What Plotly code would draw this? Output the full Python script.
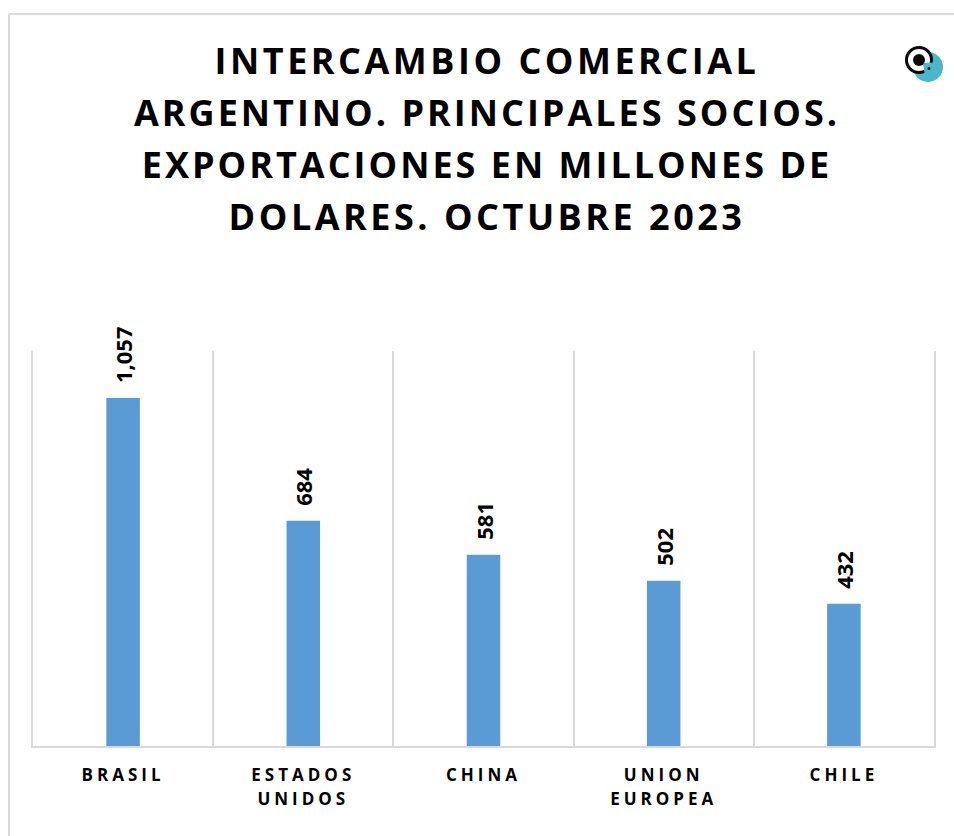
import plotly.graph_objects as go

categories = ["BRASIL", "ESTADOS<br>UNIDOS", "CHINA", "UNION<br>EUROPEA", "CHILE"]
values = [1057, 684, 581, 502, 432]
value_labels = ["1,057", "684", "581", "502", "432"]
title_lines = ["INTERCAMBIO COMERCIAL", "ARGENTINO. PRINCIPALES SOCIOS.",
               "EXPORTACIONES EN MILLONES DE", "DOLARES. OCTUBRE 2023"]

W, H = 954, 836
L, R, T, B = 33, 20, 351, 90
FONT = "Open Sans"
GREY = "#d9d9d9"
TEAL = "#4ab7cd"


def px(x):
    return (x - L) / (W - L - R)


def py(y):
    return (H - B - y) / (H - T - B)


def poly(points):
    return "M " + " L ".join(f"{px(x):.5f} {py(y):.5f}" for x, y in points) + " Z"


fig = go.Figure(go.Bar(
    x=categories, y=values, text=value_labels, textposition="outside",
    textangle=-90, cliponaxis=False, constraintext="none", width=0.186,
    marker=dict(color="#5b9bd5", line=dict(width=0)),
    textfont=dict(family=FONT, size=22, color="#000000", weight="bold"),
    hoverinfo="x+y",
))

shapes = [
    dict(type="line", xref="paper", yref="paper", x0=px(9), x1=px(9), y0=py(14), y1=py(836),
         line=dict(color=GREY, width=2)),
    dict(type="line", xref="paper", yref="paper", x0=px(9), x1=px(954), y0=py(14), y1=py(14),
         line=dict(color=GREY, width=2)),
    dict(type="circle", xref="paper", yref="paper", x0=px(913), x1=px(943), y0=py(82), y1=py(52),
         fillcolor=TEAL, line=dict(width=0)),
    dict(type="circle", xref="paper", yref="paper", x0=px(906.5), x1=px(931.5), y0=py(72.5), y1=py(47.5),
         fillcolor="white", line=dict(color="#0a0a0a", width=3)),
    dict(type="path", xref="paper", yref="paper",
         path=poly([(923, 63), (935, 62.5), (935, 72), (925, 76)]),
         fillcolor=TEAL, line=dict(width=0)),
    dict(type="circle", xref="paper", yref="paper", x0=px(913), x1=px(925), y0=py(66), y1=py(54),
         fillcolor="#0a0a0a", line=dict(width=0)),
    dict(type="circle", xref="paper", yref="paper", x0=px(927.5), x1=px(930.5), y0=py(70), y1=py(67),
         fillcolor="#0a0a0a", line=dict(width=0)),
]

fig.update_layout(
    width=W, height=H, margin=dict(l=L, r=R, t=T, b=B),
    paper_bgcolor="white", plot_bgcolor="white", showlegend=False,
    font=dict(family=FONT),
    shapes=shapes,
    title=dict(
        text="<br>".join(title_lines),
        x=487 / W, xanchor="center", xref="container",
        y=1 - 74 / H, yanchor="top",
        font=dict(family=FONT, size=36, color="#000000", weight="bold"),
    ),
    xaxis=dict(
        type="category", tickson="boundaries", showgrid=True, gridcolor=GREY, gridwidth=2,
        showline=True, linecolor=GREY, linewidth=2, ticks="", zeroline=False,
        tickangle=0, ticklabelstandoff=13,
        tickfont=dict(family=FONT, size=17, color="#000000", weight="bold"),
    ),
    yaxis=dict(range=[0, 1200], showticklabels=False, ticks="", showgrid=False, zeroline=False,
               showline=True, mirror=True, linecolor=GREY, linewidth=2),
)

post = """
document.body.style.margin = '0';
var gd = document.getElementById('{plot_id}');
var spacing = ['3.5px', '3px', '3px', '3.5px'];
gd.querySelectorAll('.gtitle').forEach(function(t){
  t.style.letterSpacing = '3px';
  t.querySelectorAll('tspan.line').forEach(function(s, i){
    s.setAttribute('dy', (1.44 * i) + 'em');
    s.style.letterSpacing = spacing[i];
  });
});
gd.querySelectorAll('.xtick text').forEach(function(t){
  t.style.letterSpacing = '4px';
  t.querySelectorAll('tspan.line').forEach(function(s, i){
    s.setAttribute('dy', (1.4 * i) + 'em');
  });
});
gd.querySelectorAll('text.bartext').forEach(function(t){
  t.setAttribute('transform', 'translate(0,-12) ' + (t.getAttribute('transform') || ''));
});
"""
fig.write_html("out.html", post_script=post, config={"displayModeBar": False})
